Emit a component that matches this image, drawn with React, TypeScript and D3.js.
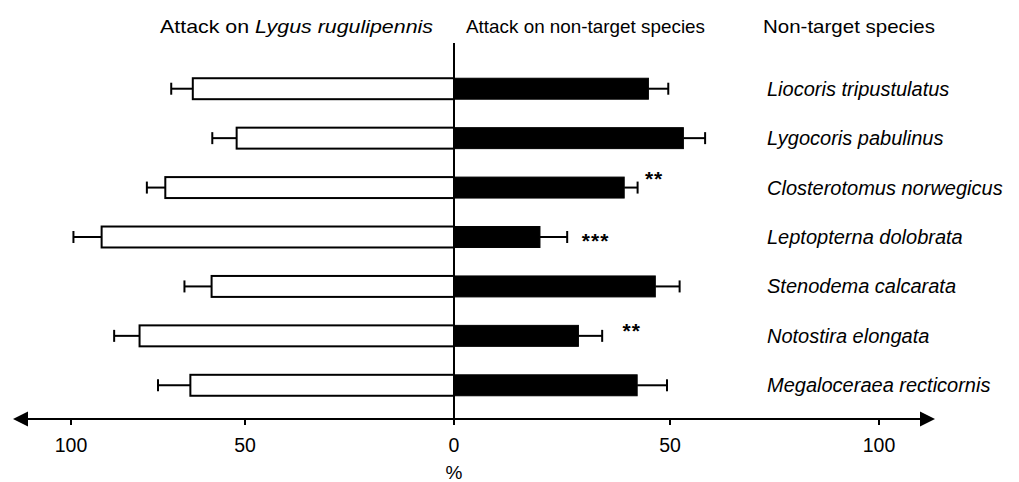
import React from "react";
import * as d3 from "d3";

const species = [
  "Liocoris tripustulatus",
  "Lygocoris pabulinus",
  "Closterotomus norwegicus",
  "Leptopterna dolobrata",
  "Stenodema calcarata",
  "Notostira elongata",
  "Megaloceraea recticornis",
];
const attackLygus = [65.0, 52.4, 72.9, 91.2, 59.6, 80.3, 65.7];
const attackLygusErr = [6.2, 7.0, 5.3, 8.1, 7.8, 7.3, 9.3];
const attackNonTarget = [45.0, 53.2, 39.4, 19.9, 46.6, 28.8, 42.4];
const attackNonTargetErr = [4.6, 5.2, 3.1, 6.3, 5.7, 5.5, 6.9];
const significance = ["", "", "**", "***", "", "**", ""];
const sigPos = [0, 0, 44.2, 29.6, 0, 39.0, 0];
const sigDy = [0, 0, -2, 11, 0, 2, 0];
const tickValues = [-100, -50, 0, 50, 100];

const W = 1019;
const H = 482;
const FONT = "'Liberation Sans', Arial, Helvetica, sans-serif";

export default function App() {
  // axis as drawn in the figure (polylinear)
  const x = d3
    .scaleLinear()
    .domain([-100, -50, 0, 50, 100])
    .range([71, 245, 454, 670, 879]);
  const y = d3
    .scaleBand<string>()
    .domain(species)
    .range([64, 410])
    .paddingInner(0.576)
    .paddingOuter(0.288);
  const bh = y.bandwidth();
  const axisY = 419;
  const x0 = x(0);
  const capH = 6;

  return (
    <svg
      width={W}
      height={H}
      style={{ position: "absolute", left: 0, top: 0, background: "#fff" }}
      fontFamily={FONT}
    >
      {/* headers */}
      <text x={160} y={33} fontSize={19} textLength={273} lengthAdjust="spacingAndGlyphs">
        Attack on <tspan fontStyle="italic">Lygus rugulipennis</tspan>
      </text>
      <text x={466} y={33} fontSize={19} textLength={239} lengthAdjust="spacingAndGlyphs">
        Attack on non-target species
      </text>
      <text x={763} y={33} fontSize={19} textLength={172} lengthAdjust="spacingAndGlyphs">
        Non-target species
      </text>

      {species.map((s, i) => {
        const yt = y(s)!;
        const yc = yt + bh / 2;
        const lEnd = x(-attackLygus[i]);
        const lCap = x(-(attackLygus[i] + attackLygusErr[i]));
        const rEnd = x(attackNonTarget[i]);
        const rCap = x(attackNonTarget[i] + attackNonTargetErr[i]);
        return (
          <g key={s}>
            <line x1={lCap} x2={lEnd} y1={yc} y2={yc} stroke="#000" strokeWidth={2} />
            <line x1={lCap} x2={lCap} y1={yc - capH} y2={yc + capH} stroke="#000" strokeWidth={2} />
            <rect x={lEnd} y={yt} width={x0 - lEnd} height={bh} fill="#fff" stroke="#000" strokeWidth={2} />
            <line x1={rEnd} x2={rCap} y1={yc} y2={yc} stroke="#000" strokeWidth={2} />
            <line x1={rCap} x2={rCap} y1={yc - capH} y2={yc + capH} stroke="#000" strokeWidth={2} />
            <rect x={x0} y={yt} width={rEnd - x0} height={bh} fill="#000" stroke="#000" strokeWidth={1} />
            {significance[i] && (
              <text x={x(sigPos[i])} y={yc + sigDy[i]} fontSize={21} fontWeight="bold" letterSpacing={1}>
                {significance[i]}
              </text>
            )}
            <text x={767} y={yc} dy="0.35em" fontSize={20} fontStyle="italic">
              {s}
            </text>
          </g>
        );
      })}

      {/* zero line */}
      <line x1={x0} x2={x0} y1={43} y2={axisY + 4} stroke="#000" strokeWidth={2} />

      {/* axis with arrows */}
      <line x1={20} x2={928} y1={axisY} y2={axisY} stroke="#000" strokeWidth={2} />
      <polygon points={`13,${axisY} 28,${axisY - 7.5} 28,${axisY + 7.5}`} fill="#000" />
      <polygon points={`935,${axisY} 920,${axisY - 7.5} 920,${axisY + 7.5}`} fill="#000" />
      {tickValues.map((t) => (
        <g key={t}>
          <line x1={x(t)} x2={x(t)} y1={axisY} y2={axisY + 6} stroke="#000" strokeWidth={2} />
          <text x={x(t)} y={452} textAnchor="middle" fontSize={19.5}>
            {Math.abs(t)}
          </text>
        </g>
      ))}
      <text x={x0} y={479} textAnchor="middle" fontSize={19}>
        %
      </text>
    </svg>
  );
}
